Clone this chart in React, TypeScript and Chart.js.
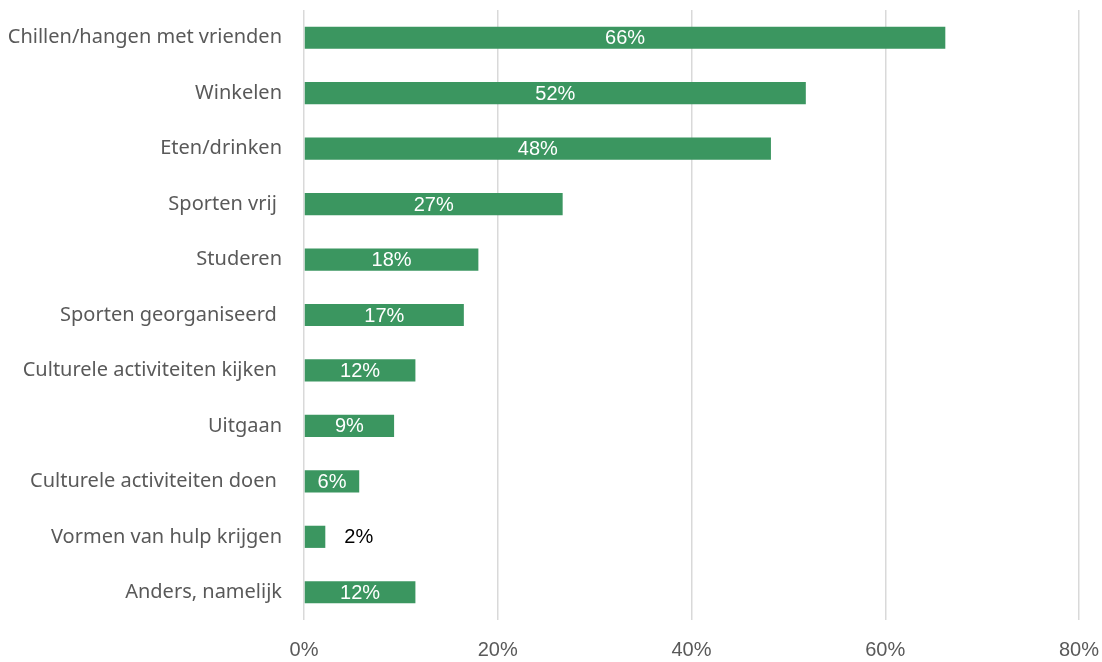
import React, { useEffect, useRef } from "react";
import { Chart, registerables } from "chart.js";

Chart.register(...registerables);

const categories = [
  "Chillen/hangen met vrienden",
  "Winkelen",
  "Eten/drinken",
  "Sporten vrij ",
  "Studeren",
  "Sporten georganiseerd ",
  "Culturele activiteiten kijken ",
  "Uitgaan",
  "Culturele activiteiten doen ",
  "Vormen van hulp krijgen",
  "Anders, namelijk",
];

const values = [66.2, 51.8, 48.2, 26.7, 18.0, 16.5, 11.5, 9.3, 5.7, 2.2, 11.5];

const xTicks = [0, 20, 40, 60, 80];

const BAR_COLOR = "#3b9660";
const TEXT_COLOR = "#595959";

const labelPlugin = {
  id: "barLabels",
  afterDatasetsDraw(chart: any) {
    const ctx = chart.ctx;
    const meta = chart.getDatasetMeta(0);
    ctx.save();
    ctx.font = '20px "Liberation Sans", Arial, sans-serif';
    ctx.textBaseline = "middle";
    meta.data.forEach((bar: any, i: number) => {
      const v = values[i];
      const txt = Math.round(v) + "%";
      const w = bar.x - bar.base;
      const tw = ctx.measureText(txt).width;
      if (w > tw + 6) {
        ctx.fillStyle = "#ffffff";
        ctx.textAlign = "center";
        ctx.fillText(txt, (bar.x + bar.base) / 2, bar.y + 1);
      } else {
        ctx.fillStyle = "#000000";
        ctx.textAlign = "left";
        ctx.fillText(txt, bar.x + 19, bar.y + 1);
      }
    });
    ctx.restore();
  },
};

export default function App() {
  const ref = useRef<HTMLCanvasElement>(null);
  useEffect(() => {
    if (!ref.current) return;
    const chart = new Chart(ref.current, {
      type: "bar",
      data: {
        labels: categories,
        datasets: [
          {
            data: values,
            backgroundColor: BAR_COLOR,
            borderWidth: 0,
            categoryPercentage: 1,
            barPercentage: 0.4,
          },
        ],
      },
      options: {
        indexAxis: "y",
        animation: false,
        responsive: false,
        devicePixelRatio: 1,
        layout: { padding: { top: 10, right: 23, left: 0, bottom: 0 } },
        plugins: {
          legend: { display: false },
          tooltip: { enabled: false },
        },
        scales: {
          x: {
            min: 0,
            max: 80,
            afterBuildTicks: (s: any) => {
              s.ticks = xTicks.map((v) => ({ value: v }));
            },
            afterFit: (s: any) => {
              s.height = 42;
              s.paddingLeft = 0;
              s.paddingRight = 0;
            },
            grid: {
              color: "#d9d9d9",
              lineWidth: 1.5,
              drawTicks: false,
            },
            border: { display: false },
            ticks: {
              padding: 18,
              color: TEXT_COLOR,
              font: { family: '"Liberation Sans", Arial, sans-serif', size: 20 },
              callback: (v: any) => v + "%",
            },
          },
          y: {
            afterFit: (s: any) => {
              s.width = 304;
              s.paddingTop = 0;
              s.paddingBottom = 0;
            },
            grid: { display: false, drawTicks: false },
            border: { display: false },
            ticks: {
              padding: 22,
              color: TEXT_COLOR,
              font: { family: '"Noto Sans", sans-serif', size: 20 },
            },
          },
        },
      },
      plugins: [labelPlugin],
    });
    return () => chart.destroy();
  }, []);
  return (
    <div style={{ position: "absolute", left: 0, top: 0, width: 1102, height: 662, background: "#fff" }}>
      <canvas ref={ref} width={1102} height={662} style={{ width: 1102, height: 662 }} />
    </div>
  );
}
